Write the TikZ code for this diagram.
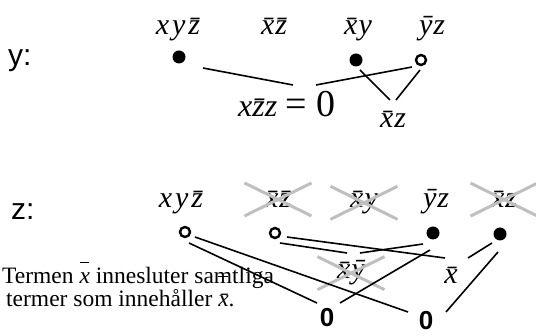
\documentclass[tikz,border=0pt]{standalone}
\usepackage{fontspec}
\setmainfont{Liberation Serif}
\setsansfont{Liberation Sans}
\usetikzlibrary{shapes.misc}
\newcommand{\highbar}[1]{\rlap{\raisebox{0.9em}{\rule{0.42em}{0.7pt}}}\textit{#1}}
\tikzset{
  termlabel/.style={anchor=base, inner sep=0pt,
    font=\fontsize{30}{30}\selectfont\itshape},
  termdot/.style={circle, fill=black, inner sep=0pt, minimum size=13pt},
  termring/.style={circle, draw=black, fill=white, line width=2.4pt,
    inner sep=0pt, minimum size=10pt},
  termcross/.style={termlabel, cross out, draw=black!25, line width=3pt,
    minimum width=64pt, minimum height=30pt},
  varlabel/.style={anchor=base west, inner sep=0pt,
    font=\fontsize{30}{30}\selectfont\sffamily},
  zerolabel/.style={anchor=base, inner sep=0pt,
    font=\fontsize{26}{26}\selectfont\sffamily\bfseries},
  termlink/.style={line width=1.6pt, draw=black}
}

\begin{document}
\begin{tikzpicture}[x=1pt, y=-1pt]
  \useasboundingbox (0,0) rectangle (536,336);

  % y row
  \node[varlabel] (yvar) at (8,66) {y:};
  \node[termlabel] (ylab1) at (178,35) {x\kern3pt y\kern3pt\={z}};
  \node[termlabel] (ylab2) at (274,35) {\={x}\kern1pt\={z}};
  \node[termlabel] (ylab3) at (358,35) {\={x}\kern1pt y};
  \node[termlabel] (ylab4) at (432,35) {\={y}\kern1pt z};
  \node[termdot] (ydot1) at (179,57) {};
  \node[termdot] (ydot3) at (356,60) {};
  \node[termring] (ydot4) at (421,60) {};
  \node[termlabel, font=\fontsize{32}{32}\selectfont\itshape] (yeq)
    at (287,117) {x\={z}z\hspace{8pt}{\upshape\fontsize{38}{38}\selectfont
    =\hspace{10pt}0}};
  \node[termlabel] (yxz) at (393,128) {\={x}\kern1pt z};

  \draw[termlink] ([shift={(24,11)}]ydot1.center) -- ([shift={(6,-32)}]yeq.base);
  \draw[termlink] ([shift={(-9,7)}]ydot4.center) -- ([shift={(29,-32)}]yeq.base);
  \draw[termlink] ([shift={(4,10)}]ydot3.center) -- ([shift={(-3,-28)}]yxz.base);
  \draw[termlink] ([shift={(-1,10)}]ydot4.center) -- ([shift={(3,-28)}]yxz.base);

  % z row
  \node[varlabel] (zvar) at (11,220) {z:};
  \node[termlabel] (zlab1) at (181,208) {x\kern3pt y\kern3pt\={z}};
  \node[termcross] (zlab2) at (278,208) {\={x}\kern1pt\={z}};
  \node[termcross] (zlab3) at (364,208) {\={x}\kern1pt y};
  \node[termlabel] (zlab4) at (436,208) {\={y}\kern1pt z};
  \node[termcross] (zlab5) at (504,208) {\={x}\kern1pt z};
  \node[termring] (zdot1) at (185,232) {};
  \node[termring] (zdot2) at (275,233) {};
  \node[termdot] (zdot4) at (433,233) {};
  \node[termdot] (zdot5) at (500,234) {};
  \node[termcross] (zxy) at (351,279) {\={x}\kern1pt\={y}};
  \node[termlabel] (zx) at (451,284) {\={x}};
  \node[zerolabel] (zero1) at (327,327) {0};
  \node[zerolabel] (zero2) at (426,330) {0};

  \draw[termlink] ([shift={(10,5)}]zdot1.center) -- ([shift={(-18,-18)}]zero2.base);
  \draw[termlink] ([shift={(4,11)}]zdot1.center) -- ([shift={(-10,-24)}]zero1.base);
  \draw[termlink] ([shift={(12,4)}]zdot2.center) -- ([shift={(-6,-26)}]zx.base);
  \draw[termlink] ([shift={(5,10)}]zdot2.center) -- ([shift={(-4,-26)}]zxy.base);
  \draw[termlink] ([shift={(-10,11)}]zdot4.center) -- ([shift={(9,-26)}]zxy.base);
  \draw[termlink] ([shift={(-3,17)}]zdot4.center) -- ([shift={(13,-24)}]zero1.base);
  \draw[termlink] ([shift={(-8,9)}]zdot5.center) -- ([shift={(17,-26)}]zx.base);
  \draw[termlink] ([shift={(-2,18)}]zdot5.center) -- ([shift={(20,-18)}]zero2.base);

  \node[anchor=base west, align=left, inner sep=0pt,
    font=\fontsize{23.5}{20}\selectfont] (note) at (2,307)
    {Termen \highbar{x} innesluter
     sa\rlap{\hspace{0.17em}\raisebox{0.33em}{\rule{0.42em}{0.6pt}}}mtliga\\
     \hspace{4pt}termer som innehåller \textit{\={x}}.};
\end{tikzpicture}
\end{document}
